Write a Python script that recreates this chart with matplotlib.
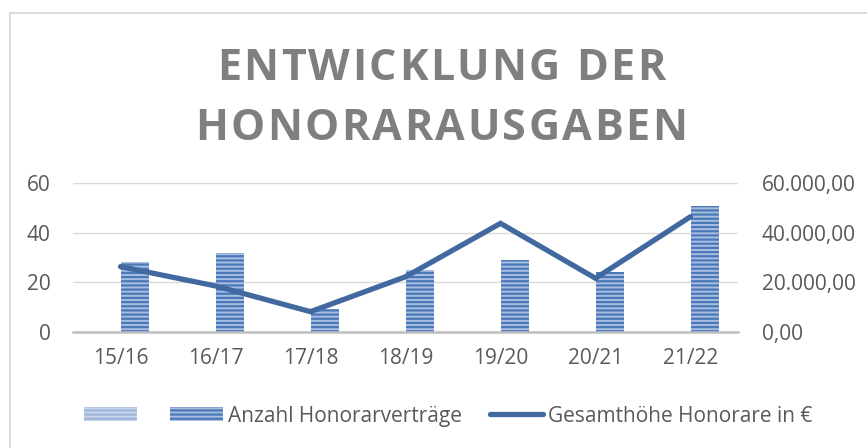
import matplotlib
matplotlib.use("Agg")
import matplotlib.pyplot as plt
from matplotlib.patches import Patch
from matplotlib.lines import Line2D
from matplotlib.textpath import TextPath
from matplotlib.font_manager import FontProperties
import numpy as np

categories = ["15/16", "16/17", "17/18", "18/19", "19/20", "20/21", "21/22"]
anzahl = [28, 32, 9, 25, 29, 24, 51]
gesamt = [26300, 18500, 8100, 22200, 43800, 21600, 46500]
left_ticks = [0, 20, 40, 60]
right_ticks = [0, 20000, 40000, 60000]
right_labels = ["0,00", "20.000,00", "40.000,00", "60.000,00"]
title_lines = ["ENTWICKLUNG DER", "HONORARAUSGABEN"]
legend_labels = ["", "Anzahl Honorarverträge", "Gesamthöhe Honorare in €"]

plt.rcParams['font.family'] = ['Open Sans', 'DejaVu Sans']
plt.rcParams['hatch.linewidth'] = 1.6

W, H = 867, 448
fig = plt.figure(figsize=(W / 100, H / 100), dpi=100)
ax = fig.add_axes([73 / W, 1 - 331.7 / H, (738 - 73) / W, (331.7 - 183.3) / H])

txt = '#595959'
bar_face = '#a9bfe2'
bar_hatch = '#4a78b8'
line_col = '#41699f'
fs = 15

x = np.arange(len(categories))
bw = 0.285
ax.bar(x + 0.01, anzahl, width=bw, align='edge', facecolor=bar_face,
       edgecolor=bar_hatch, linewidth=0, hatch='----', zorder=2)
ax.set_xlim(-0.5, len(categories) - 0.5)
ax.set_ylim(0, 60)
ax.set_yticks(left_ticks)
ax.set_yticklabels([str(v) for v in left_ticks])
ax.set_xticks(x)
ax.set_xticklabels(categories)
ax.grid(axis='y', color='#d9d9d9', linewidth=1.0, zorder=0)
ax.set_axisbelow(True)
for s in ['top', 'right', 'left']:
    ax.spines[s].set_visible(False)
ax.spines['bottom'].set_color('#bfbfbf')
ax.spines['bottom'].set_linewidth(1.8)
ax.spines['bottom'].set_zorder(3)
ax.tick_params(axis='y', length=0, pad=16, labelsize=fs, labelcolor=txt)
ax.tick_params(axis='x', length=0, pad=12, labelsize=fs, labelcolor=txt)

ax2 = ax.twinx()
ax2.plot(x, gesamt, color=line_col, linewidth=3.8, solid_capstyle='round',
         solid_joinstyle='miter', zorder=4)
ax2.set_ylim(0, 60000)
ax2.set_yticks(right_ticks)
ax2.set_yticklabels(right_labels)
for s in ax2.spines.values():
    s.set_visible(False)
ax2.tick_params(axis='y', length=0, pad=17, labelsize=fs, labelcolor=txt)

# title with letter spacing (tracking)
tfs = 31
tprop = FontProperties(family='Open Sans', weight='bold', size=tfs)
tracking = 2.4  # px
px_per_pt = 100 / 72
def char_w(c):
    if c == ' ':
        return TextPath((0, 0), 'A A', prop=tprop).get_extents().width * px_per_pt - \
               TextPath((0, 0), 'AA', prop=tprop).get_extents().width * px_per_pt
    tp_ = TextPath((0, 0), c + '|', prop=tprop)
    tp2 = TextPath((0, 0), '|', prop=tprop)
    return (tp_.get_extents().x1 - tp2.get_extents().x1) * px_per_pt

for line, ybase in zip(title_lines, [80, 140]):
    widths = [char_w(c) for c in line]
    total = sum(widths) + tracking * (len(line) - 1)
    xpos = 441 - total / 2
    for c, w in zip(line, widths):
        if c != ' ':
            fig.text(xpos / W, 1 - ybase / H, c, ha='left', va='baseline',
                     fontsize=tfs, fontweight='bold', color='#7f7f7f')
        xpos += w + tracking

# chart border (top and left visible)
fig.add_artist(Line2D([9.5 / W, 9.5 / W], [0, 1 - 13 / H], color='#d9d9d9', linewidth=1.3,
                      transform=fig.transFigure))
fig.add_artist(Line2D([9.5 / W, 1], [1 - 13 / H, 1 - 13 / H], color='#d9d9d9', linewidth=1.3,
                      transform=fig.transFigure))

handles = [
    Patch(facecolor='#c8d4ea', edgecolor='#9fb4da', linewidth=0, hatch='----'),
    Patch(facecolor=bar_face, edgecolor=bar_hatch, linewidth=0, hatch='----'),
    Line2D([0], [0], color=line_col, linewidth=3.8, solid_capstyle='round'),
]
leg = fig.legend(handles, legend_labels, loc='center', bbox_to_anchor=(448 / W, 1 - 416 / H),
                 ncol=3, frameon=False, fontsize=fs, handlelength=2.55, handleheight=0.67,
                 handletextpad=0.24, columnspacing=1.35, labelcolor=txt)

fig.savefig("out.png", dpi=100, facecolor='white')
